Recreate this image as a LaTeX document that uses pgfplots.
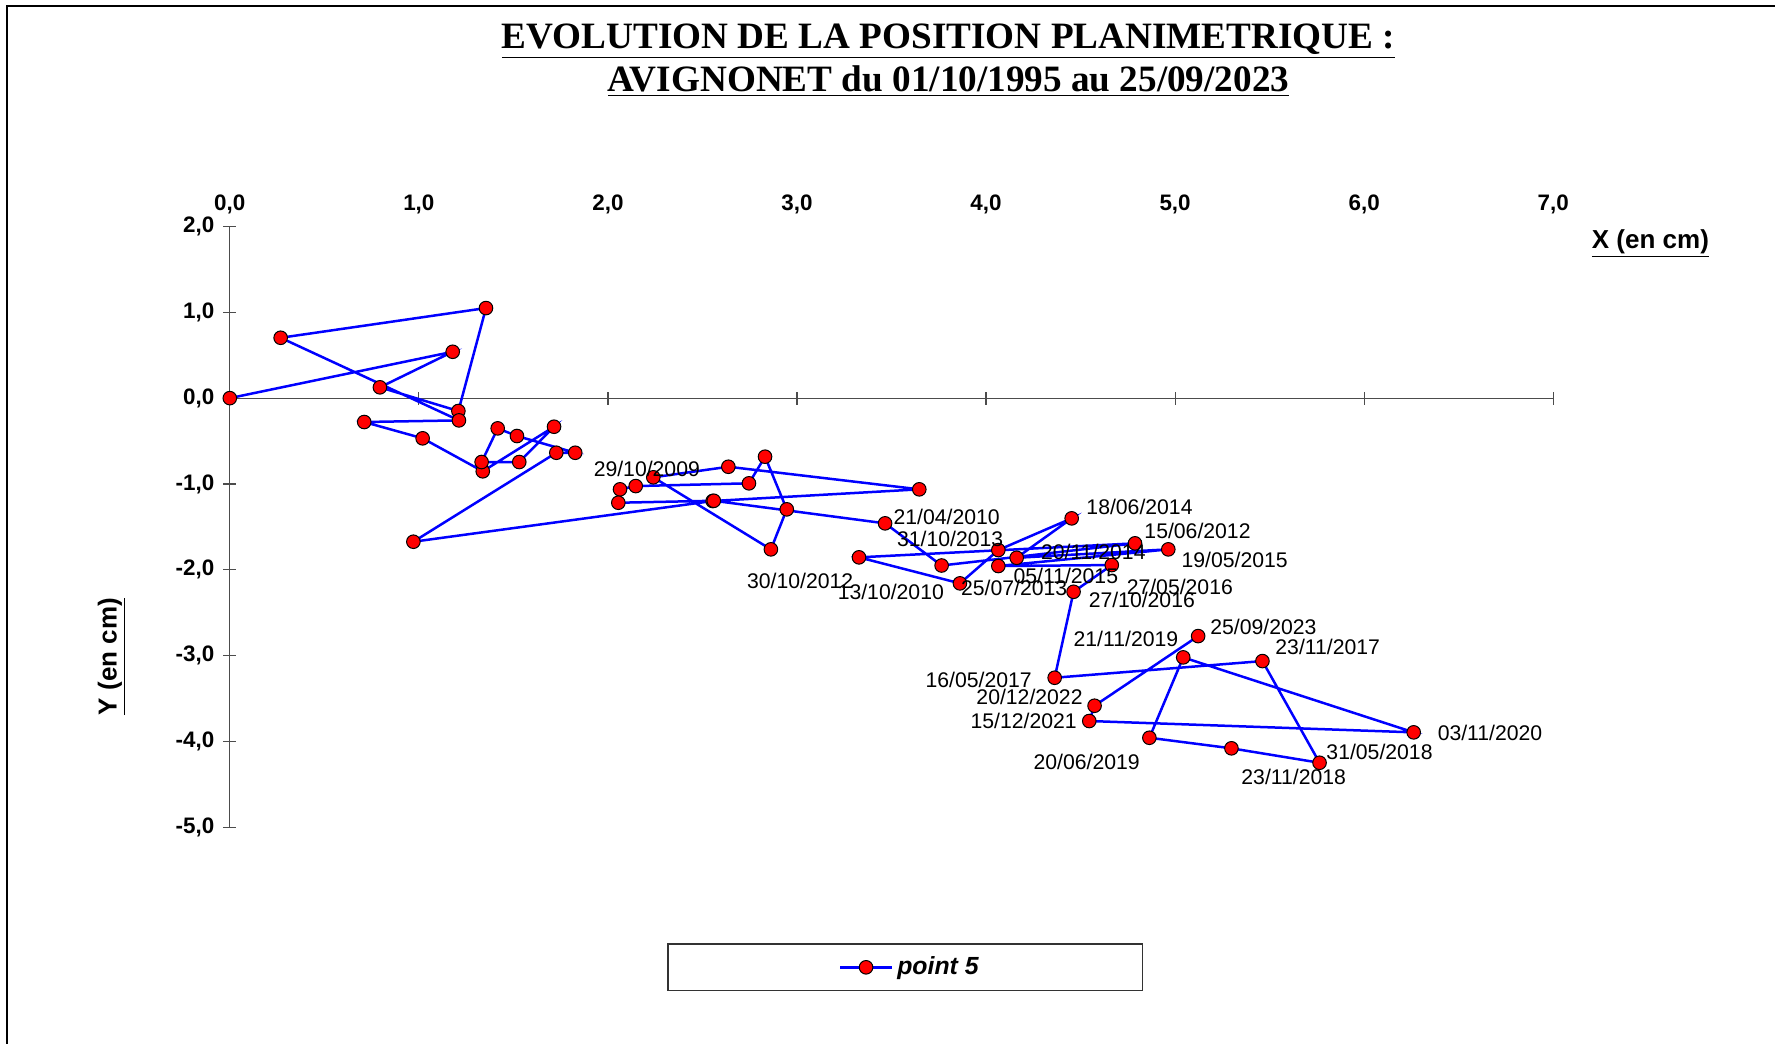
\documentclass[border=0pt]{standalone}
\usepackage{pgfplots}
\pgfplotsset{compat=1.18}
\usepackage{fontspec}
\setmainfont{Liberation Sans}
\newfontfamily\serifbf{Liberation Serif}
\newcommand\lab[3]{\node[font=\fontsize{10.6}{12}\selectfont, inner sep=0pt] at ({#1*0.5pt},{(1043-#2)*0.5pt}) {#3};}
\begin{document}
\begin{tikzpicture}
\useasboundingbox (0,0) rectangle (887.5pt,521.5pt);
% frame
\draw[line width=1.1pt] (3.4pt,-5pt) -- (3.4pt,518.65pt) -- (895pt,518.65pt);
% title
\node[anchor=base, font=\serifbf\bfseries\fontsize{18.6}{20}\selectfont, inner sep=0pt] at (474.3pt,497.15pt) {\underline{EVOLUTION DE LA POSITION PLANIMETRIQUE :}};
\node[anchor=base, font=\serifbf\bfseries\fontsize{18.6}{20}\selectfont, inner sep=0pt] at (474.3pt,475.65pt) {\underline{AVIGNONET du 01/10/1995 au 25/09/2023}};
% axis labels
\node[font=\bfseries\fontsize{13}{15}\selectfont, inner sep=0pt] at (825.2pt,399.8pt) {\underline{X (en cm)}};
\node[font=\bfseries\fontsize{13}{15}\selectfont, inner sep=0pt, rotate=90] at (55.9pt,193.2pt) {\underline{Y (en cm)}};
% legend box
\draw[black!80, line width=0.6pt] (333.95pt,26.25pt) rectangle (571.1pt,49.45pt);

\begin{axis}[
  at={(114.9pt,107.75pt)}, anchor=south west,
  scale only axis, width=661.7pt, height=300.55pt,
  xmin=0, xmax=7, ymin=-5, ymax=2,
  axis x line=middle, axis y line=left,
  axis line style={-, black!70, line width=0.6pt},
  xtick={0,1,...,7}, ytick={-5,-4,...,2},
  xticklabels={\mbox{}},
  tick align=center, major tick length=6.5pt,
  tick style={black!70, line width=0.6pt},
  yticklabel style={font=\bfseries\fontsize{11.2}{13}\selectfont, xshift=-1pt},
  /pgf/number format/.cd, fixed, fixed zerofill, precision=1, use comma, assume math mode=true,
  /pgfplots/.cd,
  clip=false,
  legend style={at={(0.5145,-0.2326)}, anchor=center, draw=none, fill=none,
    font=\bfseries\itshape\fontsize{12.4}{14}\selectfont},
  legend image code/.code={\draw[mark repeat=2, mark phase=2, #1] plot coordinates {(0pt,0pt) (13pt,0pt) (26pt,0pt)};},
]
\addplot[color={rgb,255:red,0;green,0;blue,255}, line width=1.25pt, mark=*, mark size=3.4pt,
  mark options={fill={rgb,255:red,255;green,0;blue,0}, draw=black, line width=0.5pt}]
coordinates {
(0,0) (1.179,0.540) (0.794,0.126) (1.209,-0.150) (1.355,1.049) (0.269,0.703)
(1.212,-0.259) (0.711,-0.278) (1.020,-0.468) (1.338,-0.852) (1.715,-0.333)
(1.531,-0.744) (1.332,-0.744) (1.417,-0.352) (1.519,-0.441) (1.827,-0.636)
(1.727,-0.636) (0.971,-1.672) (2.554,-1.198) (3.647,-1.062) (2.637,-0.799)
(2.240,-0.922) (2.862,-1.761) (2.946,-1.295) (2.831,-0.682) (2.746,-0.992)
(2.147,-1.024) (2.064,-1.062) (2.055,-1.218) (2.560,-1.195) (3.466,-1.458)
(3.765,-1.949) (4.788,-1.691) (3.328,-1.854) (3.862,-2.157) (4.065,-1.769)
(4.453,-1.400) (4.162,-1.859) (4.964,-1.761) (4.065,-1.955) (4.665,-1.944)
(4.463,-2.255) (4.363,-3.256) (5.462,-3.062) (5.764,-4.246) (5.298,-4.078)
(4.864,-3.955) (5.043,-3.019) (6.262,-3.892) (4.546,-3.760) (4.574,-3.582)
(5.122,-2.771)
};
\addlegendentry{point 5}
\end{axis}

% top tick labels
\begin{axis}[
  at={(114.9pt,107.75pt)}, anchor=south west,
  scale only axis, width=661.7pt, height=300.55pt,
  xmin=0, xmax=7, ymin=-5, ymax=2,
  axis x line=top, axis y line=none,
  axis line style={draw=none},
  xtick={0,1,...,7}, major tick length=0pt,
  xticklabel style={font=\bfseries\fontsize{11.2}{13}\selectfont, yshift=2.8pt},
  /pgf/number format/.cd, fixed, fixed zerofill, precision=1, use comma, assume math mode=true,
]
\end{axis}

% date labels
\lab{646.8}{469.3}{29/10/2009}
\lab{946.7}{516.7}{21/04/2010}
\lab{950.2}{539.0}{31/10/2013}
\lab{800.2}{580.7}{30/10/2012}
\lab{890.8}{591.7}{13/10/2010}
\lab{1014.2}{587.7}{25/07/2013}
\lab{1139.5}{506.7}{18/06/2014}
\lab{1197.5}{530.7}{15/06/2012}
\lab{1093.3}{552.3}{20/11/2014}
\lab{1234.7}{560.0}{19/05/2015}
\lab{1065.8}{576.0}{05/11/2015}
\lab{1179.8}{587.3}{27/05/2016}
\lab{1141.8}{600.0}{27/10/2016}
\lab{1125.9}{639.3}{21/11/2019}
\lab{1263.4}{626.7}{25/09/2023}
\lab{1327.7}{646.7}{23/11/2017}
\lab{978.6}{680.0}{16/05/2017}
\lab{1029.5}{697.3}{20/12/2022}
\lab{1023.6}{720.7}{15/12/2021}
\lab{1490.0}{733.3}{03/11/2020}
\lab{1379.5}{751.7}{31/05/2018}
\lab{1086.6}{762.3}{20/06/2019}
\lab{1293.7}{776.7}{23/11/2018}
\end{tikzpicture}
\end{document}
